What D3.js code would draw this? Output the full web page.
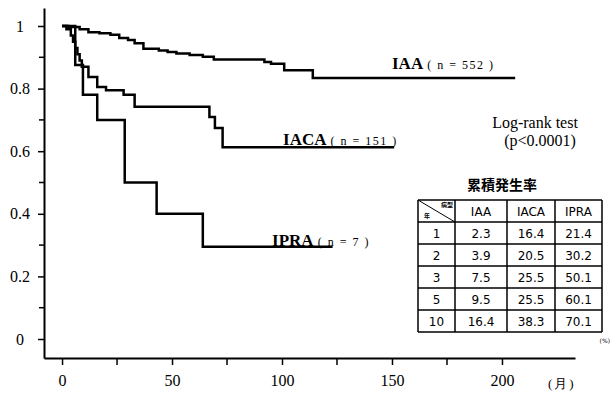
<!DOCTYPE html>
<html>
<head>
<meta charset="utf-8">
<script src="https://cdn.jsdelivr.net/npm/d3@7"></script>
<style>
  body { margin: 0; background: #fff; }
  svg { display: block; }
  .tick text { font-family: "Liberation Serif", serif; font-size: 16px; }
  .serif { font-family: "Liberation Serif", serif; }
  .tbl { font-family: "DejaVu Sans", sans-serif; font-size: 12px; }
</style>
</head>
<body>
<div id="chart"></div>
<script>
// survival curves: [month, survival]
var iaa = [[0,1],[3,0.997],[8,0.99],[12,0.98],[17,0.977],[22,0.972],[26,0.962],[30,0.955],[33,0.945],
  [37,0.927],[44,0.922],[48,0.917],[52,0.912],[58,0.907],[64,0.902],[69,0.893],[92,0.885],[95,0.879],
  [101,0.859],[114,0.834],[206,0.834]];
var iaca = [[0,1],[2,0.99],[4,0.97],[5,0.95],[6,0.93],[7,0.91],[8,0.89],[9,0.87],[12,0.837],[16,0.805],
  [20,0.795],[28,0.78],[33,0.742],[67,0.709],[69.5,0.674],[73,0.613],[151,0.613]];
var ipra = [[0,1],[6,0.875],[9.5,0.78],[16,0.70],[28.5,0.50],[43,0.40],[64,0.295],[123,0.295]];

var curveLabels = [
  {name: "IAA", n: "( n = 552 )", x: 150, y: 0.862},
  {name: "IACA", n: "( n = 151 )", x: 100.5, y: 0.62},
  {name: "IPRA", n: "( n = 7 )", x: 95.5, y: 0.298}
];

var xTicks = [0, 50, 100, 150, 200];
var xMinor = [25, 75, 125, 175];
var yTicks = [0, 0.2, 0.4, 0.6, 0.8, 1];
var yMinor = [0.1, 0.3, 0.5, 0.7, 0.9];

// table of cumulative incidence
var tableCols = ["IAA", "IACA", "IPRA"];
var tableYears = ["1", "2", "3", "5", "10"];
var tableIAA = ["2.3", "3.9", "7.5", "9.5", "16.4"];
var tableIACA = ["16.4", "20.5", "25.5", "25.5", "38.3"];
var tableIPRA = ["21.4", "30.2", "50.1", "60.1", "70.1"];

var svgWidth = 612, svgHeight = 396;

var svg = d3.select("#chart").append("svg")
  .attr("width", svgWidth)
  .attr("height", svgHeight);

var x = d3.scaleLinear().domain([-8.2, 233.2]).range([44, 575]);
var y = d3.scaleLinear().domain([-0.0607, 1.0575]).range([358, 8]);

// x axis
var xAxis = svg.append("g")
  .attr("transform", "translate(0,358)")
  .call(d3.axisBottom(x).tickValues(xTicks).tickSize(7).tickSizeOuter(0).tickPadding(10));
xAxis.select(".domain").attr("stroke-width", 2);
xAxis.selectAll(".tick line").attr("stroke-width", 1.5);
svg.append("g").selectAll("line")
  .data(xMinor).enter().append("line")
  .attr("x1", d => x(d)).attr("x2", d => x(d))
  .attr("y1", 358).attr("y2", 365)
  .attr("stroke", "#000").attr("stroke-width", 1.5);

// y axis
var yAxis = svg.append("g")
  .attr("transform", "translate(44,0)")
  .call(d3.axisLeft(y).tickValues(yTicks).tickSize(6).tickSizeOuter(0)
    .tickFormat(d => d === 1 ? "1" : d === 0 ? "0" : d3.format(".1f")(d)));
yAxis.select(".domain").attr("stroke-width", 2);
yAxis.selectAll(".tick line").attr("stroke-width", 1.5);
yAxis.selectAll(".tick text").attr("x", -24).attr("text-anchor", "middle");
svg.append("g").selectAll("line")
  .data(yMinor).enter().append("line")
  .attr("x1", 39).attr("x2", 44)
  .attr("y1", d => y(d)).attr("y2", d => y(d))
  .attr("stroke", "#000").attr("stroke-width", 1.5);

svg.append("text").attr("class", "serif")
  .attr("x", 548).attr("y", 388)
  .attr("font-size", 13).attr("letter-spacing", 2).text("(月)");

// curves
var line = d3.line()
  .x(d => x(d[0]))
  .y(d => y(d[1]))
  .curve(d3.curveStepAfter);

[iaa, iaca, ipra].forEach(function(s) {
  svg.append("path")
    .datum(s)
    .attr("fill", "none")
    .attr("stroke", "#000")
    .attr("stroke-width", 2.5)
    .attr("d", line);
});

// curve labels
curveLabels.forEach(function(l) {
  var t = svg.append("text").attr("class", "serif")
    .attr("x", x(l.x)).attr("y", y(l.y));
  t.append("tspan").attr("font-weight", "bold").attr("font-size", 17).text(l.name);
  t.append("tspan").attr("font-size", 12).attr("dx", 4)
    .attr("letter-spacing", 1.5).text(l.n);
});

svg.append("text").attr("class", "serif")
  .attr("x", 535).attr("y", 128).attr("text-anchor", "middle")
  .attr("font-size", 16).text("Log-rank test");
svg.append("text").attr("class", "serif")
  .attr("x", 540).attr("y", 146).attr("text-anchor", "middle")
  .attr("font-size", 16).text("(p<0.0001)");

// table
var tx = [418, 455, 507, 555, 602];
var ty = [200, 222, 244, 266, 288, 310, 332];
var tg = svg.append("g");

tg.append("text")
  .attr("x", 502).attr("y", 190).attr("text-anchor", "middle")
  .attr("font-family", "Noto Sans CJK JP").attr("font-weight", "bold")
  .attr("font-size", 14).text("累積発生率");

tg.selectAll(".h").data(ty).enter().append("line")
  .attr("x1", tx[0]).attr("x2", tx[4])
  .attr("y1", d => d).attr("y2", d => d)
  .attr("stroke", "#000").attr("stroke-width", 1.5);
tg.selectAll(".v").data(tx).enter().append("line")
  .attr("x1", d => d).attr("x2", d => d)
  .attr("y1", ty[0]).attr("y2", ty[6])
  .attr("stroke", "#000").attr("stroke-width", 1.5);
tg.append("line")
  .attr("x1", tx[0]).attr("y1", ty[0])
  .attr("x2", tx[1]).attr("y2", ty[1])
  .attr("stroke", "#000").attr("stroke-width", 1);
tg.append("text").attr("x", 447).attr("y", 207).attr("text-anchor", "middle")
  .attr("font-family", "Noto Sans CJK JP").attr("font-weight", "bold")
  .attr("font-size", 6).text("病型");
tg.append("text").attr("x", 427).attr("y", 218).attr("text-anchor", "middle")
  .attr("font-family", "Noto Sans CJK JP").attr("font-weight", "bold")
  .attr("font-size", 6).text("年");

tableCols.forEach(function(c, i) {
  tg.append("text").attr("class", "tbl")
    .attr("x", (tx[i + 1] + tx[i + 2]) / 2).attr("y", 216)
    .attr("text-anchor", "middle").text(c);
});
var cols = [tableYears, tableIAA, tableIACA, tableIPRA];
cols.forEach(function(col, ci) {
  col.forEach(function(v, ri) {
    tg.append("text").attr("class", "tbl")
      .attr("x", (tx[ci] + tx[ci + 1]) / 2)
      .attr("y", (ty[ri + 1] + ty[ri + 2]) / 2 + 4.5)
      .attr("text-anchor", "middle").text(v);
  });
});
tg.append("text")
  .attr("font-family", "DejaVu Sans, sans-serif")
  .attr("x", 610).attr("y", 343).attr("text-anchor", "end")
  .attr("font-size", 6).text("(%)");
</script>
</body>
</html>
